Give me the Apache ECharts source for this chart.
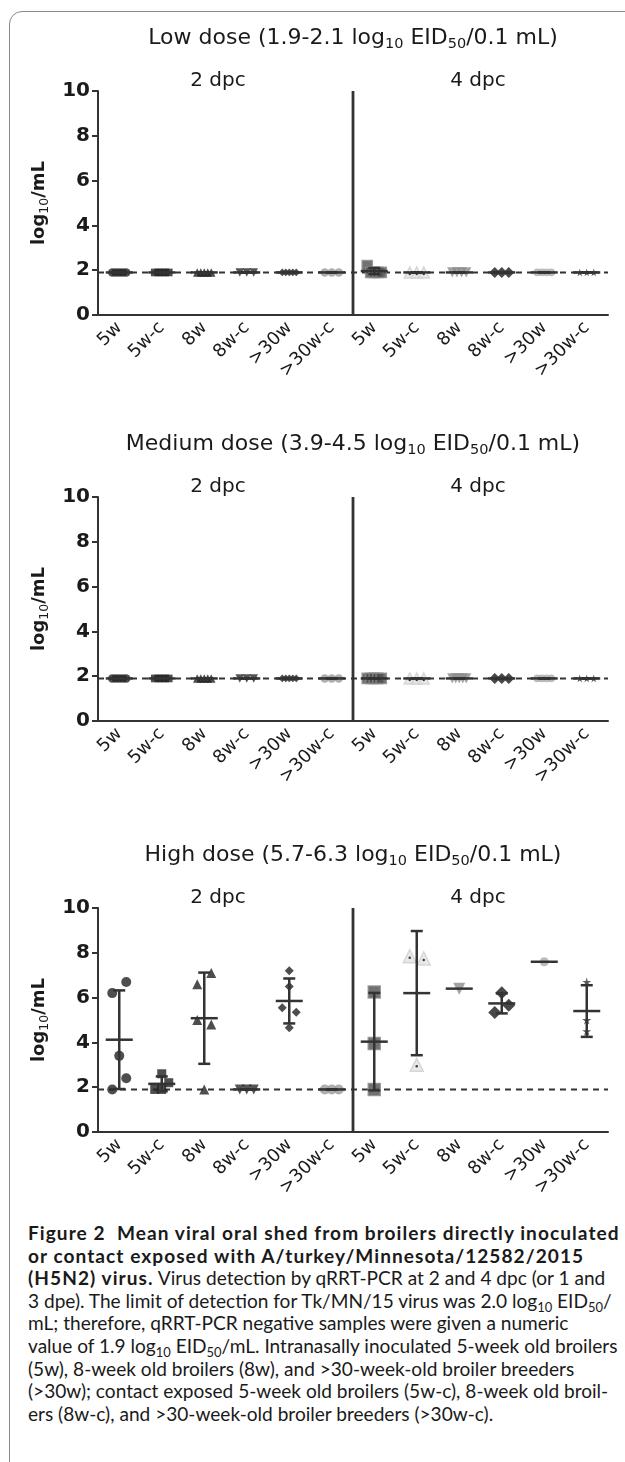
<!DOCTYPE html>
<html>
<head>
<meta charset="utf-8">
<script src="https://cdn.jsdelivr.net/npm/echarts/dist/echarts.min.js"></script>
<style>
  html, body { margin: 0; padding: 0; background: #fff; overflow: hidden; }
  #frame {
    position: absolute; left: 9px; top: 11px; width: 700px; height: 1500px;
    border: 1.5px solid #8a8a8a; border-radius: 13px; box-sizing: border-box;
  }
  #chart { position: absolute; left: 0; top: 0; width: 625px; height: 1215px; }
  #caption {
    position: absolute; left: 28px; top: 1222px; display: inline-block;
    font-family: Lato, "Open Sans", sans-serif; font-size: 18px; line-height: 22.6px;
    color: #1a1a1a; white-space: nowrap;
  }
  #caption b { letter-spacing: 0.055em; }
  #caption sub { font-size: 0.68em; line-height: 0; vertical-align: -0.3em; }
</style>
</head>
<body>
<div id="frame"></div>
<div id="chart"></div>
<div id="caption">
<b>Figure 2&nbsp; Mean viral oral shed from broilers directly inoculated<br>
or contact exposed with A/turkey/Minnesota/12582/2015<br>
(H5N2) virus.</b> Virus detection by qRRT-PCR at 2 and 4 dpc (or 1 and<br>
3 dpe). The limit of detection for Tk/MN/15 virus was 2.0 log<sub>10</sub> EID<sub>50</sub>/<br>
mL; therefore, qRRT-PCR negative samples were given a numeric<br>
<span id="longest">value of 1.9 log<sub>10</sub> EID<sub>50</sub>/mL. Intranasally inoculated 5-week old broilers</span><br>
(5w), 8-week old broilers (8w), and &gt;30-week-old broiler breeders<br>
(&gt;30w); contact exposed 5-week old broilers (5w-c), 8-week old broil-<br>
ers (8w-c), and &gt;30-week-old broiler breeders (&gt;30w-c).
</div>
<script>
// categories: 6 groups, sampled at 2 and 4 dpc
const groups = ['5w', '5w-c', '8w', '8w-c', '>30w', '>30w-c'];
const dpcLabels = ['2 dpc', '4 dpc'];
const categories = groups.concat(groups);
const yTicks = [0, 2, 4, 6, 8, 10];
const detectionLimit = 1.9;

const doseTitles = [
  ['Low dose (1.9-2.1 log', '10', ' EID', '50', '/0.1 mL)'],
  ['Medium dose (3.9-4.5 log', '10', ' EID', '50', '/0.1 mL)'],
  ['High dose (5.7-6.3 log', '10', ' EID', '50', '/0.1 mL)']
];

// log10 EID50/mL per bird, 2 dpc groups then 4 dpc groups
const lowDose = [
  [1.9, 1.9, 1.9, 1.9, 1.9], [1.9, 1.9, 1.9, 1.9, 1.9], [1.9, 1.9, 1.9, 1.9, 1.9],
  [1.9, 1.9, 1.9], [1.9, 1.9, 1.9, 1.9, 1.9], [1.9, 1.9, 1.9],
  [2.2, 1.9, 1.9, 1.9, 1.9], [1.9, 1.9, 1.9], [1.9, 1.9, 1.9, 1.9],
  [1.9, 1.9, 1.9], [1.9, 1.9, 1.9, 1.9], [1.9, 1.9, 1.9]
];
const mediumDose = [
  [1.9, 1.9, 1.9, 1.9, 1.9], [1.9, 1.9, 1.9, 1.9, 1.9], [1.9, 1.9, 1.9, 1.9, 1.9],
  [1.9, 1.9, 1.9], [1.9, 1.9, 1.9, 1.9, 1.9], [1.9, 1.9, 1.9],
  [1.9, 1.9, 1.9, 1.9, 1.9], [1.9, 1.9, 1.9], [1.9, 1.9, 1.9, 1.9, 1.9],
  [1.9, 1.9, 1.9], [1.9, 1.9, 1.9, 1.9], [1.9, 1.9, 1.9]
];
const highDose = [
  [6.2, 6.7, 3.4, 1.9, 2.4], [2.6, 1.9, 1.9, 2.2], [6.6, 7.1, 5.0, 4.8, 1.9],
  [1.9, 1.9, 1.9], [7.2, 6.5, 5.55, 5.35, 4.65], [1.9, 1.9, 1.9],
  [6.25, 3.95, 1.9], [7.85, 7.75, 3.0], [6.4],
  [5.34, 5.66, 6.22], [7.6], [4.5, 6.7, 5.0]
];
const doses = [lowDose, mediumDose, highDose];

const STAR = 'path://M50,0 L61,35 L98,35 L68,57 L79,91 L50,70 L21,91 L32,57 L2,35 L39,35 Z';
const markerStyles = [
  { symbol: 'circle', color: '#222', size: 10 },
  { symbol: 'rect', color: '#222', size: 9 },
  { symbol: 'triangle', color: '#222', size: 10 },
  { symbol: 'triangle', rotate: 180, color: '#2a2a2a', size: 10 },
  { symbol: 'diamond', color: '#222', size: 9 },
  { symbol: 'circle', color: '#9a9a9a', size: 10 },
  { symbol: 'rect', color: '#4d4d4d', size: 12, border: '#8a8a8a' },
  { symbol: 'triangle', color: '#e4e4e4', size: 13, border: '#cfcfcf', dot: true },
  { symbol: 'triangle', rotate: 180, color: '#8c8c8c', size: 12 },
  { symbol: 'diamond', color: '#1a1a1a', size: 13 },
  { symbol: 'circle', color: '#ababab', size: 9 },
  { symbol: STAR, color: '#333', size: 9 }
];

const gridTops = [91, 497, 908];
const panelScale = [0.85, 0.85, 1];
const FONT = 'DejaVu Sans';
const INK = '#1a1a1a';
const LINE = '#333';

// spread neighbouring points sideways like a column scatter
function spread(vals) {
  const offs = [];
  let start = 0;
  for (let i = 1; i <= vals.length; i++) {
    if (i === vals.length || Math.abs(vals[i] - vals[i - 1]) > 0.55) {
      const n = i - start;
      for (let k = 0; k < n; k++) offs.push(n === 1 ? 0 : -7 + 14 * k / (n - 1));
      start = i;
    }
  }
  return offs;
}

function stats(vals) {
  const n = vals.length;
  const mean = vals.reduce((a, b) => a + b, 0) / n;
  const sd = n > 1 ? Math.sqrt(vals.reduce((a, b) => a + (b - mean) ** 2, 0) / (n - 1)) : 0;
  return [mean, mean - sd, mean + sd, n];
}

function renderBar(params, api) {
  const c = api.value(0);
  const p = api.coord([c, api.value(1)]);
  const lo = api.coord([c, api.value(2)])[1];
  const hi = api.coord([c, api.value(3)])[1];
  const st = { stroke: LINE, lineWidth: 2.5 };
  const kids = [{ type: 'line', shape: { x1: p[0] - 13.5, y1: p[1], x2: p[0] + 13.5, y2: p[1] }, style: st }];
  if (api.value(4) > 1) {
    kids.push({ type: 'line', shape: { x1: p[0], y1: lo, x2: p[0], y2: hi }, style: st });
    kids.push({ type: 'line', shape: { x1: p[0] - 6, y1: lo, x2: p[0] + 6, y2: lo }, style: st });
    kids.push({ type: 'line', shape: { x1: p[0] - 6, y1: hi, x2: p[0] + 6, y2: hi }, style: st });
  }
  return { type: 'group', children: kids };
}

function renderDivider(params, api) {
  const a = api.coord([api.value(0), yTicks[0]]);
  const b = api.coord([api.value(1), yTicks[yTicks.length - 1]]);
  const x = (a[0] + b[0]) / 2;
  return { type: 'line', shape: { x1: x, y1: a[1], x2: x, y2: b[1] }, style: { stroke: LINE, lineWidth: 2.8 } };
}

function renderLimit(params, api) {
  const y = api.coord([0, api.value(1)])[1];
  const cs = params.coordSys;
  return { type: 'line', shape: { x1: cs.x, y1: y, x2: cs.x + cs.width, y2: y },
    style: { stroke: LINE, lineWidth: 2, lineDash: [6, 5] } };
}

const chart = echarts.init(document.getElementById('chart'));
const grids = [], xAxes = [], yAxes = [], series = [], graphics = [];

doses.forEach((dose, i) => {
  grids.push({ left: 98, right: 17, top: gridTops[i], height: 224 });
  xAxes.push({
    gridIndex: i, type: 'category', data: categories,
    axisLine: { lineStyle: { color: LINE, width: 2 } },
    axisTick: { alignWithLabel: true, length: 6, lineStyle: { color: LINE, width: 2 } },
    axisLabel: { interval: 0, rotate: 45, margin: 10, fontFamily: FONT, fontSize: 18, color: INK }
  });
  yAxes.push({
    gridIndex: i, type: 'value', min: yTicks[0], max: yTicks[yTicks.length - 1], interval: yTicks[1] - yTicks[0],
    splitLine: { show: false },
    axisLine: { show: true, lineStyle: { color: LINE, width: 2 } },
    axisTick: { show: true, length: 6, lineStyle: { color: LINE, width: 2 } },
    axisLabel: { margin: 8, fontFamily: FONT, fontWeight: 'bold', fontSize: 20, color: INK },
    name: '{b|log}{s|10}{b|/mL}', nameLocation: 'middle', nameRotate: 90, nameGap: 41,
    nameTextStyle: { rich: {
      b: { fontFamily: FONT, fontWeight: 'bold', fontSize: 18, lineHeight: 24, color: INK },
      s: { fontFamily: FONT, fontSize: 12.5, lineHeight: 10, verticalAlign: 'bottom', color: INK }
    } }
  });

  const pts = [], dots = [], bars = [];
  dose.forEach((vals, c) => {
    const ms = markerStyles[c];
    const size = ms.size * panelScale[i];
    const offs = spread(vals);
    vals.forEach((v, k) => {
      pts.push({
        value: [c, v], symbol: ms.symbol, symbolSize: size, symbolRotate: ms.rotate || 0,
        symbolOffset: [offs[k], 0],
        itemStyle: { color: ms.color, borderColor: ms.border || ms.color, borderWidth: ms.border ? 1.5 : 0 }
      });
      if (ms.dot) dots.push({ value: [c, v], symbolOffset: [offs[k], 1.5] });
    });
    bars.push([c].concat(stats(vals)));
  });

  series.push({ type: 'custom', xAxisIndex: i, yAxisIndex: i, z: 1, silent: true,
    renderItem: renderLimit, data: [[0, detectionLimit]] });
  series.push({ type: 'scatter', xAxisIndex: i, yAxisIndex: i, z: 2, data: pts });
  series.push({ type: 'scatter', xAxisIndex: i, yAxisIndex: i, z: 3, symbol: 'circle', symbolSize: 2.5,
    itemStyle: { color: '#111' }, data: dots });
  series.push({ type: 'custom', xAxisIndex: i, yAxisIndex: i, z: 4, renderItem: renderBar, data: bars });
  series.push({ type: 'custom', xAxisIndex: i, yAxisIndex: i, z: 4, renderItem: renderDivider,
    data: [[groups.length - 1, groups.length]] });

  const t = doseTitles[i];
  graphics.push({
    type: 'text', x: 353, y: gridTops[i] - 52.5,
    style: {
      text: '{t|' + t[0] + '}{s|' + t[1] + '}{t|' + t[2] + '}{s|' + t[3] + '}{t|' + t[4] + '}',
      align: 'center', verticalAlign: 'middle',
      rich: {
        t: { fontFamily: FONT, fontSize: 22, lineHeight: 26, fill: INK },
        s: { fontFamily: FONT, fontSize: 14.5, lineHeight: 11, verticalAlign: 'bottom', fill: INK }
      }
    }
  });
  dpcLabels.forEach((lbl, j) => {
    graphics.push({
      type: 'text', x: [218, 478][j], y: gridTops[i] - 10.5,
      style: { text: lbl, align: 'center', verticalAlign: 'middle', fontFamily: FONT, fontSize: 20, fill: INK }
    });
  });
});

chart.setOption({
  animation: false,
  grid: grids,
  xAxis: xAxes,
  yAxis: yAxes,
  series: series,
  graphic: graphics
});

// the longest regular caption line runs from x=28 to about x=618
const cap = document.getElementById('caption');
const longest = document.getElementById('longest');
cap.style.fontSize = (18 * 590 / longest.getBoundingClientRect().width) + 'px';

window.addEventListener('resize', () => {
  chart.resize();
});
</script>
</body>
</html>
